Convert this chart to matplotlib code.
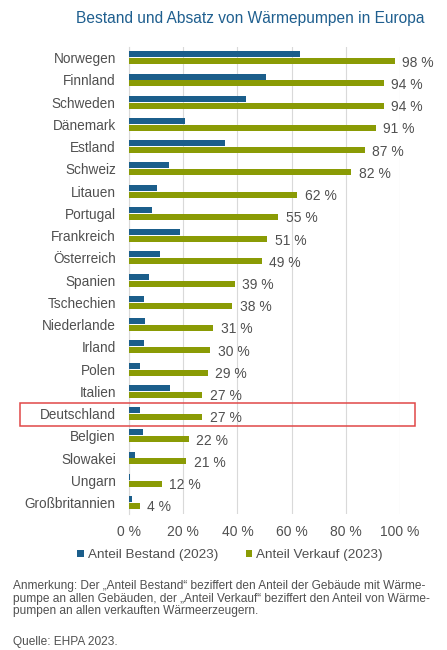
import numpy as np
import matplotlib
matplotlib.use("Agg")
import matplotlib.pyplot as plt
import matplotlib.transforms as mtransforms
from matplotlib.patches import Rectangle

plt.rcParams['font.family'] = ['Liberation Sans', 'DejaVu Sans']

# data #
countries = ["Norwegen", "Finnland", "Schweden", "Dänemark", "Estland", "Schweiz",
             "Litauen", "Portugal", "Frankreich", "Österreich", "Spanien",
             "Tschechien", "Niederlande", "Irland", "Polen", "Italien",
             "Deutschland", "Belgien", "Slowakei", "Ungarn", "Großbritannien"]
bestand = [63, 50.7, 43, 20.8, 35.5, 14.8, 10.2, 8.4, 18.7, 11.4, 7.3,
           5.5, 5.9, 5.5, 4.2, 15.2, 4.2, 5.2, 2.2, 0.4, 1.0]
verkauf = [98, 94, 94, 91, 87, 82, 62, 55, 51, 49, 39, 38, 31, 30, 29, 27,
           27, 22, 21, 12, 4]
xticks = [0, 20, 40, 60, 80, 100]
highlight = "Deutschland"

blue = '#1b5e8b'
green = '#8a9b05'
grey = '#505050'

fig = plt.figure(figsize=(4.47, 6.5), dpi=100)
ax = fig.add_axes([0.2886, 0.2098, 0.6063, 0.7185])

y = np.arange(len(countries))
h = 0.27
ax.barh(y - 0.155, bestand, height=h, color=blue, label='Anteil Bestand (2023)', zorder=3)
ax.barh(y + 0.155, verkauf, height=h, color=green, label='Anteil Verkauf (2023)', zorder=3)

for yi, v in zip(y, verkauf):
    ax.text(v + 2.8, yi + 0.22, f"{v} %", va='center', ha='left',
            fontsize=10, color=grey)

ax.set_ylim(len(countries) - 0.5, -0.5)
ax.set_xlim(0, 100)
ax.set_yticks(y)
ax.set_yticklabels(countries, fontsize=9.8, color=grey)
ax.set_xticks(xticks)
ax.set_xticklabels([f"{t} %" for t in xticks], fontsize=10, color=grey)
ax.tick_params(length=0)
ax.tick_params(axis='y', pad=9.5)
ax.tick_params(axis='x', pad=8)
for s in ax.spines.values():
    s.set_visible(False)
ax.spines['left'].set_visible(True)
ax.spines['left'].set_color('#d9d9d9')
ax.grid(axis='x', color='#d9d9d9', linewidth=0.8, zorder=0)

# highlight box #
i = countries.index(highlight)
trans = mtransforms.blended_transform_factory(fig.transFigure, ax.transData)
ax.add_patch(Rectangle((20 / 447, i - 0.47), (415 - 20) / 447, 1.05,
                       transform=trans, fill=False, edgecolor='#e04848',
                       linewidth=1.1, clip_on=False, zorder=5))

fig.text(0.56, 0.971, "Bestand und Absatz von Wärmepumpen in Europa",
         ha='center', va='center', fontsize=11.2, color='#1f5f8f')

fig.legend(loc='center', bbox_to_anchor=(0.515, 1 - 555 / 650), ncol=2,
           frameon=False, fontsize=9.7, handlelength=0.45, handleheight=0.45,
           handletextpad=0.35, columnspacing=2.0, labelcolor=grey)

note = ("Anmerkung: Der \u201eAnteil Bestand\u201c beziffert den Anteil der Gebäude mit Wärme-\n"
        "pumpe an allen Gebäuden, der \u201eAnteil Verkauf\u201c beziffert den Anteil von Wärme-\n"
        "pumpen an allen verkauften Wärmeerzeugern.")
fig.text(13 / 447, 1 - 580 / 650, note, ha='left', va='top', fontsize=8.6,
         color=grey, linespacing=1.08)
fig.text(13 / 447, 1 - 642 / 650, "Quelle: EHPA 2023.", ha='left', va='center',
         fontsize=8.6, color=grey)

fig.savefig('out.png', dpi=100)
